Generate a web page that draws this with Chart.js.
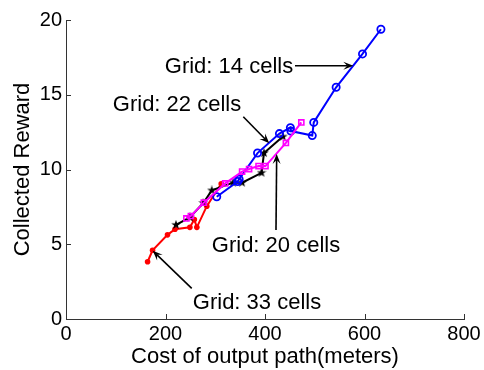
<!DOCTYPE html>
<html><head><meta charset="utf-8">
<script src="https://cdn.jsdelivr.net/npm/chart.js@4/dist/chart.umd.min.js"></script>
<style>html,body{margin:0;padding:0;background:#fff}#wrap{width:484px;height:370px}</style>
</head><body><div id="wrap"><canvas id="c" width="484" height="370"></canvas></div>
<script>
// ---- data ----
const cost14   = [303, 345, 348, 385, 429, 451, 452, 495, 498, 543, 596, 633];
const reward14 = [8.18, 9.2, 9.35, 11.1, 12.4, 12.8, 12.57, 12.27, 13.15, 15.5, 17.73, 19.38];
const cost20   = [242, 251, 277, 320, 354, 368, 387, 401, 442, 473];
const reward20 = [6.73, 6.89, 7.78, 9.07, 9.86, 10.03, 10.23, 10.23, 11.78, 13.15];
const cost22   = [221, 249, 276, 293, 336, 354, 393, 398, 436];
const reward22 = [6.3, 6.8, 7.76, 8.6, 9.12, 9.12, 9.78, 11.1, 12.2];
const cost33   = [164, 174, 204, 219, 249, 258, 263, 283, 312];
const reward33 = [3.83, 4.6, 5.63, 6.0, 6.13, 6.65, 6.13, 7.55, 9.05];
const xTicks = [0, 200, 400, 600, 800];
const yTicks = [0, 5, 10, 15, 20];
const xTitle = 'Cost of output path(meters)';
const yTitle = 'Collected Reward';
// annotation texts and arrows, in data units
const noteTexts  = ['Grid: 14 cells', 'Grid: 22 cells', 'Grid: 20 cells', 'Grid: 33 cells'];
const noteAt     = [[327.6, 16.86], [223.1, 14.31], [422.1, 4.9], [383.9, 1.07]];
const arrowFrom  = [[460.3, 16.94], [356.4, 13.53], [422.1, 5.95], [252.7, 2.05]];
const arrowTo    = [[577.5, 16.94], [408.6, 11.75], [423.5, 11.04], [174.3, 4.57]];

const FONT = "'Liberation Sans', Arial, Helvetica, sans-serif";
const AXIS = '#333333';

function pts(xs, ys){ return xs.map((v,i)=>({x:v, y:ys[i]})); }

function starCanvas(size, color){
  const c = document.createElement('canvas'); c.width = c.height = size;
  const g = c.getContext('2d'); g.fillStyle = color; g.beginPath();
  const cx = size/2, cy = size/2, R = size/2, r = R*0.4;
  for (let i=0;i<10;i++){
    const a = -Math.PI/2 + i*Math.PI/5, rad = i%2 ? r : R;
    g.lineTo(cx + rad*Math.cos(a), cy + rad*Math.sin(a));
  }
  g.closePath(); g.fill(); return c;
}

const overlay = {
  id: 'overlay',
  afterDraw(chart){
    const {ctx, chartArea:a, scales:{x, y}} = chart;
    ctx.save();
    // inward ticks
    ctx.strokeStyle = AXIS; ctx.lineWidth = 1; ctx.beginPath();
    xTicks.forEach(v=>{ const px = Math.round(x.getPixelForValue(v)) + 0.5; ctx.moveTo(px, a.bottom); ctx.lineTo(px, a.bottom - 5); });
    yTicks.forEach(v=>{ const py = Math.round(y.getPixelForValue(v)) + 0.5; ctx.moveTo(a.left, py); ctx.lineTo(a.left + 5, py); });
    ctx.stroke();
    // annotation texts
    ctx.fillStyle = '#000'; ctx.font = '22px ' + FONT; ctx.textAlign = 'center'; ctx.textBaseline = 'middle';
    noteTexts.forEach((t,i)=>{ ctx.fillText(t, x.getPixelForValue(noteAt[i][0]), y.getPixelForValue(noteAt[i][1])); });
    // arrows
    ctx.strokeStyle = '#000'; ctx.lineWidth = 1.6;
    arrowFrom.forEach((f,i)=>{
      const x0 = x.getPixelForValue(f[0]), y0 = y.getPixelForValue(f[1]);
      const x1 = x.getPixelForValue(arrowTo[i][0]), y1 = y.getPixelForValue(arrowTo[i][1]);
      const ang = Math.atan2(y1 - y0, x1 - x0);
      const L = 10, W = 4, N = 6;
      const bx = x1 - N*Math.cos(ang), by = y1 - N*Math.sin(ang);
      ctx.beginPath(); ctx.moveTo(x0, y0); ctx.lineTo(bx, by); ctx.stroke();
      const ca = Math.cos(ang), sa = Math.sin(ang);
      ctx.beginPath();
      ctx.moveTo(x1, y1);
      ctx.lineTo(x1 - L*ca + W*sa, y1 - L*sa - W*ca);
      ctx.lineTo(bx, by);
      ctx.lineTo(x1 - L*ca - W*sa, y1 - L*sa + W*ca);
      ctx.closePath(); ctx.fillStyle = '#000'; ctx.fill();
    });
    ctx.restore();
  }
};

new Chart(document.getElementById('c'), {
  type: 'scatter',
  data: {
    datasets: [
      { label: 'Grid: 20 cells', data: pts(cost20, reward20), showLine: true, borderColor: '#ff00ff', borderWidth: 2,
        pointStyle: 'rect', pointRadius: 3.6, pointBorderWidth: 1.6, pointBackgroundColor: 'rgba(255,255,255,0)', pointBorderColor: '#ff00ff' },
      { label: 'Grid: 14 cells', data: pts(cost14, reward14), showLine: true, borderColor: '#0000ff', borderWidth: 2,
        pointStyle: 'circle', pointRadius: 3.6, pointBorderWidth: 1.8, pointBackgroundColor: 'rgba(255,255,255,0)', pointBorderColor: '#0000ff' },
      { label: 'Grid: 22 cells', data: pts(cost22, reward22), showLine: true, borderColor: '#000000', borderWidth: 2,
        pointStyle: starCanvas(10, '#000'), pointRadius: 5 },
      { label: 'Grid: 33 cells', data: pts(cost33, reward33), showLine: true, borderColor: '#ff0000', borderWidth: 2,
        pointStyle: 'circle', pointRadius: 2.8, pointBorderWidth: 0, pointBackgroundColor: '#ff0000', pointBorderColor: '#ff0000' }
    ]
  },
  options: {
    responsive: false, animation: false, devicePixelRatio: 1,
    layout: { padding: { top: 20, right: 20, left: 0, bottom: 0 } },
    plugins: { legend: { display: false }, tooltip: { enabled: false } },
    elements: { line: { tension: 0 } },
    scales: {
      x: {
        type: 'linear', min: 0, max: 800,
        afterBuildTicks: s => { s.ticks = xTicks.map(v=>({value:v})); },
        afterFit: s => { s.height = 51; },
        grid: { display: false, drawTicks: false },
        border: { display: true, color: AXIS, width: 1 },
        ticks: { color: '#000', font: { family: FONT, size: 20 }, padding: 3, maxRotation: 0 },
        title: { display: true, text: xTitle, color: '#000', font: { family: FONT, size: 22 }, padding: { top: 0, bottom: 0 } }
      },
      y: {
        type: 'linear', min: 0, max: 20,
        afterBuildTicks: s => { s.ticks = yTicks.map(v=>({value:v})); },
        afterFit: s => { s.width = 66; },
        grid: { display: false, drawTicks: false },
        border: { display: true, color: AXIS, width: 1 },
        ticks: { color: '#000', font: { family: FONT, size: 20 }, padding: 4 },
        title: { display: true, text: yTitle, color: '#000', font: { family: FONT, size: 22 }, padding: { top: 10, bottom: 0 } }
      }
    }
  },
  plugins: [overlay]
});
</script>
</body></html>
